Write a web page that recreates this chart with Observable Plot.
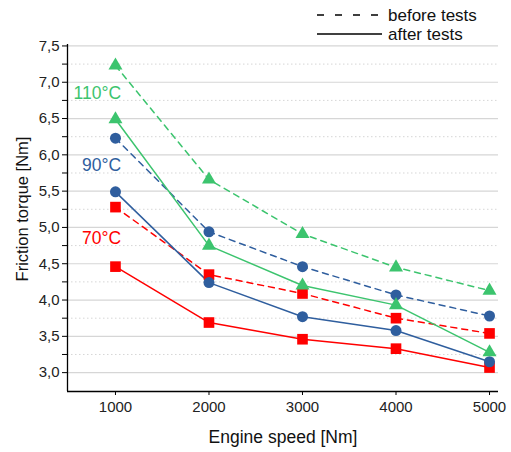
<!DOCTYPE html>
<html>
<head>
<meta charset="utf-8">
<script src="https://cdn.jsdelivr.net/npm/d3@7"></script>
<script src="https://cdn.jsdelivr.net/npm/@observablehq/plot@0.6"></script>
<style>
  body { margin: 0; background: white; font-family: "Liberation Sans", Arial, sans-serif; }
  #legend { position: relative; height: 40px; width: 511px; }
  #legend svg { position: absolute; left: 0; top: 0; overflow: visible; }
</style>
</head>
<body>
<div id="legend"></div>
<div id="chart"></div>
<script>
// ---- data ----
const speeds = [1000, 2000, 3000, 4000, 5000];
const temps = ["70°C", "90°C", "110°C"];
const before70 = [5.28, 4.35, 4.09, 3.75, 3.54];
const after70 = [4.46, 3.69, 3.46, 3.33, 3.07];
const before90 = [6.23, 4.94, 4.46, 4.07, 3.78];
const after90 = [5.49, 4.24, 3.77, 3.58, 3.15];
const before110 = [7.23, 5.66, 4.91, 4.45, 4.13];
const after110 = [6.49, 4.75, 4.20, 3.93, 3.28];
const yMajor = [3.0, 3.5, 4.0, 4.5, 5.0, 5.5, 6.0, 6.5, 7.0, 7.5];
const yMinor = [3.25, 3.75, 4.25, 4.75, 5.25, 5.75, 6.25, 6.75, 7.25];
const xTicks = [1000, 2000, 3000, 4000, 5000];
const xDomain = [487, 5096];
const yDomain = [2.74, 7.52];
const labelX = [1060, 1060, 1060];
const labelY = [4.85, 5.85, 6.84];
const legendLabels = ["before tests", "after tests"];

const colors = {"70°C": "#ff0000", "90°C": "#2f5e9e", "110°C": "#3cc46e"};
const symbols = {"70°C": "square", "90°C": "circle", "110°C": "triangle"};
const radii = {"70°C": 6.0, "90°C": 5.5, "110°C": 5.2};

const series = [
  {temp: "70°C", phase: "before", vals: before70},
  {temp: "70°C", phase: "after", vals: after70},
  {temp: "90°C", phase: "before", vals: before90},
  {temp: "90°C", phase: "after", vals: after90},
  {temp: "110°C", phase: "before", vals: before110},
  {temp: "110°C", phase: "after", vals: after110}
];
const rows = series.flatMap(s => s.vals.map((v, i) => ({
  speed: speeds[i], value: v, temp: s.temp, phase: s.phase, key: s.temp + s.phase
})));
const labels = temps.map((t, i) => ({t, x: labelX[i], y: labelY[i]}));

const fmtY = d => d.toFixed(1).replace(".", ",");
const fmtX = d => String(d);

const marks = [
  Plot.gridY(yMinor, {stroke: "#d6d6d6", strokeOpacity: 1, strokeDasharray: "1.5,2.5"}),
  Plot.gridY(yMajor, {stroke: "#d6d6d6", strokeOpacity: 1, strokeWidth: 1.2}),
  Plot.axisY(yMinor, {tickSize: 5, tickFormat: () => "", stroke: "#000"}),
  Plot.axisY(yMajor, {tickSize: 5, tickPadding: 3, tickFormat: fmtY, fontSize: 15, fill: "#222", stroke: "#000", label: null}),
  Plot.axisX(xTicks, {tickSize: 4, tickPadding: 6, tickFormat: fmtX, fontSize: 15, fill: "#222", stroke: "#000", label: null}),
  Plot.ruleX([xDomain[0]], {stroke: "#000", strokeWidth: 1.3}),
  Plot.ruleY([yDomain[0]], {stroke: "#000", strokeWidth: 1.3})
];
for (const s of series) {
  const data = rows.filter(r => r.key === s.temp + s.phase);
  marks.push(Plot.line(data, {
    x: "speed", y: "value", stroke: colors[s.temp], strokeWidth: 1.5,
    strokeDasharray: s.phase === "before" ? "6,5" : null
  }));
}
for (const s of series) {
  const data = rows.filter(r => r.key === s.temp + s.phase);
  marks.push(Plot.dot(data, {
    x: "speed", y: "value", fill: colors[s.temp], stroke: "none",
    symbol: symbols[s.temp], r: radii[s.temp]
  }));
}
marks.push(Plot.text(labels, {x: "x", y: "y", text: "t", fill: d => colors[d.t], textAnchor: "end", fontSize: 17.5}));
marks.push(Plot.text(["Engine speed [Nm]"], {frameAnchor: "bottom", textAnchor: "middle", lineAnchor: "middle", dy: 46, fontSize: 17.5, fill: "#111"}));
marks.push(Plot.text(["Friction torque [Nm]"], {frameAnchor: "left", textAnchor: "middle", lineAnchor: "middle", dx: -45, dy: -9, rotate: -90, fontSize: 16.5, fill: "#111"}));

const chart = Plot.plot({
  width: 511,
  height: 412,
  marginTop: 4,
  marginLeft: 67,
  marginRight: 13,
  marginBottom: 61,
  style: {fontFamily: "Liberation Sans, Arial, sans-serif", overflow: "visible", background: "white"},
  x: {domain: xDomain, axis: null},
  y: {domain: yDomain, axis: null},
  color: {type: "identity"},
  marks
});
document.getElementById("chart").appendChild(chart);

// ---- legend ----
const lsvg = d3.select("#legend").append("svg").attr("width", 511).attr("height", 40);
const items = lsvg.selectAll("g").data(legendLabels).join("g")
  .attr("transform", (d, i) => `translate(0, ${15 + i * 19})`);
items.append("line").attr("x1", 317).attr("x2", 382).attr("y1", 0).attr("y2", 0)
  .attr("stroke", "#000").attr("stroke-width", 1.5)
  .attr("stroke-dasharray", (d, i) => i === 0 ? "7,11" : null);
items.append("text").attr("x", 388).attr("y", 0).attr("dy", "0.35em")
  .attr("font-size", 17).attr("fill", "#111")
  .attr("font-family", "Liberation Sans, Arial, sans-serif").text(d => d);
</script>
</body>
</html>
